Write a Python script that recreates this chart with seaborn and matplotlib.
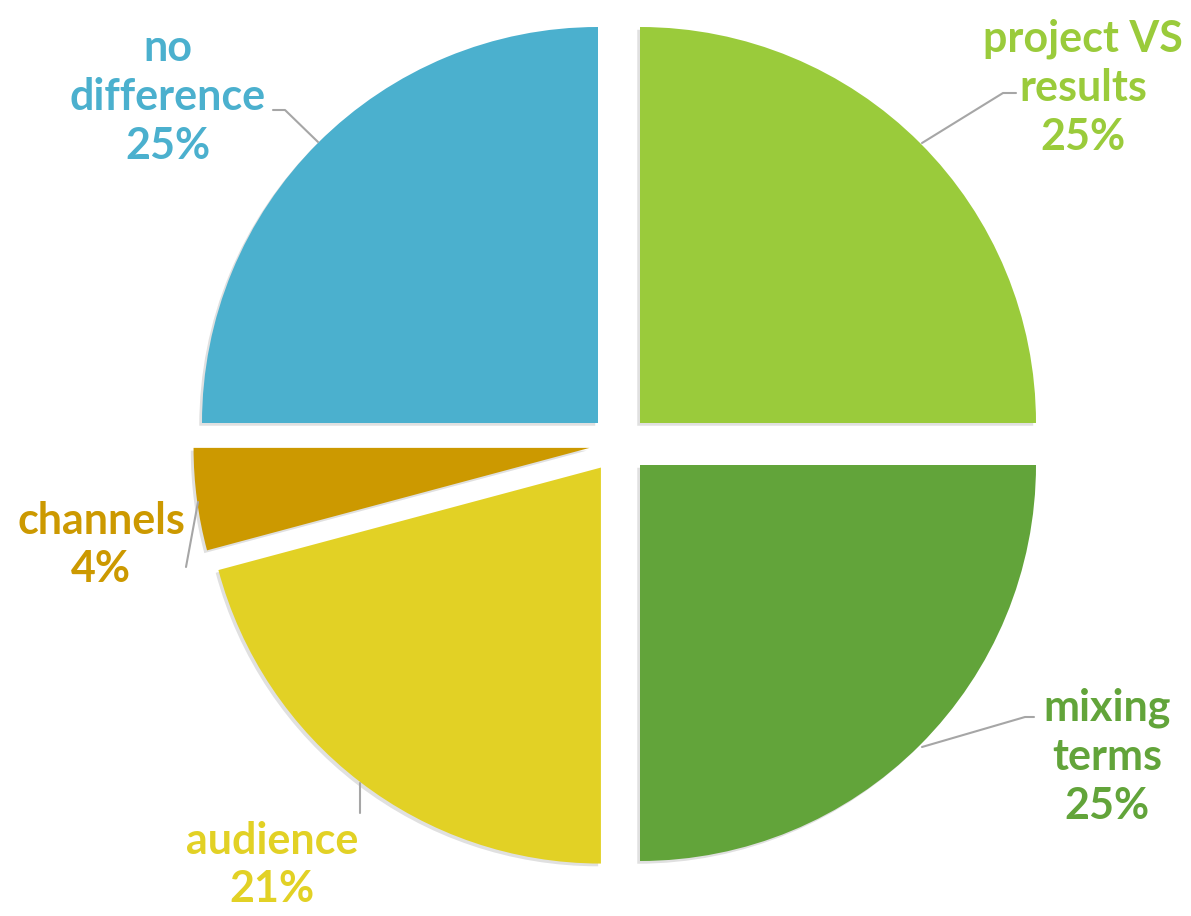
import matplotlib
matplotlib.use("Agg")
import matplotlib.pyplot as plt
import seaborn as sns

# ---- data ----
categories = ["project VS\nresults", "mixing\nterms", "audience", "channels", "no\ndifference"]
values = [6, 6, 5, 1, 6]
colors = ["#9ACB3B", "#62A43A", "#E2D125", "#CC9900", "#4BB0CE"]

# ---- layout (pixels, from top-left) ----
W, H = 1191, 916
center_px = (619, 444)
radius_px = 396
label_pos = [(1083, 88), (1107, 757), (272, 865), (101, 545), (168, 97)]
leaders = [
    [(1016, 93), (1003, 93), (922, 143)],
    [(1034, 717), (1025, 717), (922, 747)],
    [(360, 783), (360, 813)],
    [(198, 502), (186, 567)],
    [(273, 110), (285, 110), (318, 142)],
]

sns.set_theme(style="white")
plt.rcParams["font.family"] = ["Lato", "DejaVu Sans"]

fig = plt.figure(figsize=(W / 100, H / 100), dpi=100)
ax = fig.add_axes([0, 0, 1, 1])
ax.set_axis_off()

palette = sns.color_palette(colors)
wedges, _ = ax.pie(values, colors=palette, startangle=90, counterclock=False,
                   explode=[0.075] * len(values), radius=1.0,
                   wedgeprops=dict(linewidth=0),
                   shadow={"ox": -0.005, "oy": -0.005, "shade": 1.0, "alpha": 0.12})

cx, cy = center_px
ax.set_xlim(-cx / radius_px, (W - cx) / radius_px)
ax.set_ylim(-(H - cy) / radius_px, cy / radius_px)
ax.set_aspect("equal", adjustable="box")

total = sum(values)
for cat, v, col, (lx, ly) in zip(categories, values, palette, label_pos):
    pct = round(100 * v / total)
    fig.text(lx / W, 1 - ly / H, f"{cat}\n{pct}%", color=col, fontsize=31,
             fontweight="bold", ha="center", va="center", linespacing=1.27)

for pts in leaders:
    xs = [p[0] / W for p in pts]
    ys = [1 - p[1] / H for p in pts]
    fig.add_artist(plt.Line2D(xs, ys, transform=fig.transFigure, color="#A6A6A6", lw=1.5))

fig.savefig("out.png", dpi=100)
